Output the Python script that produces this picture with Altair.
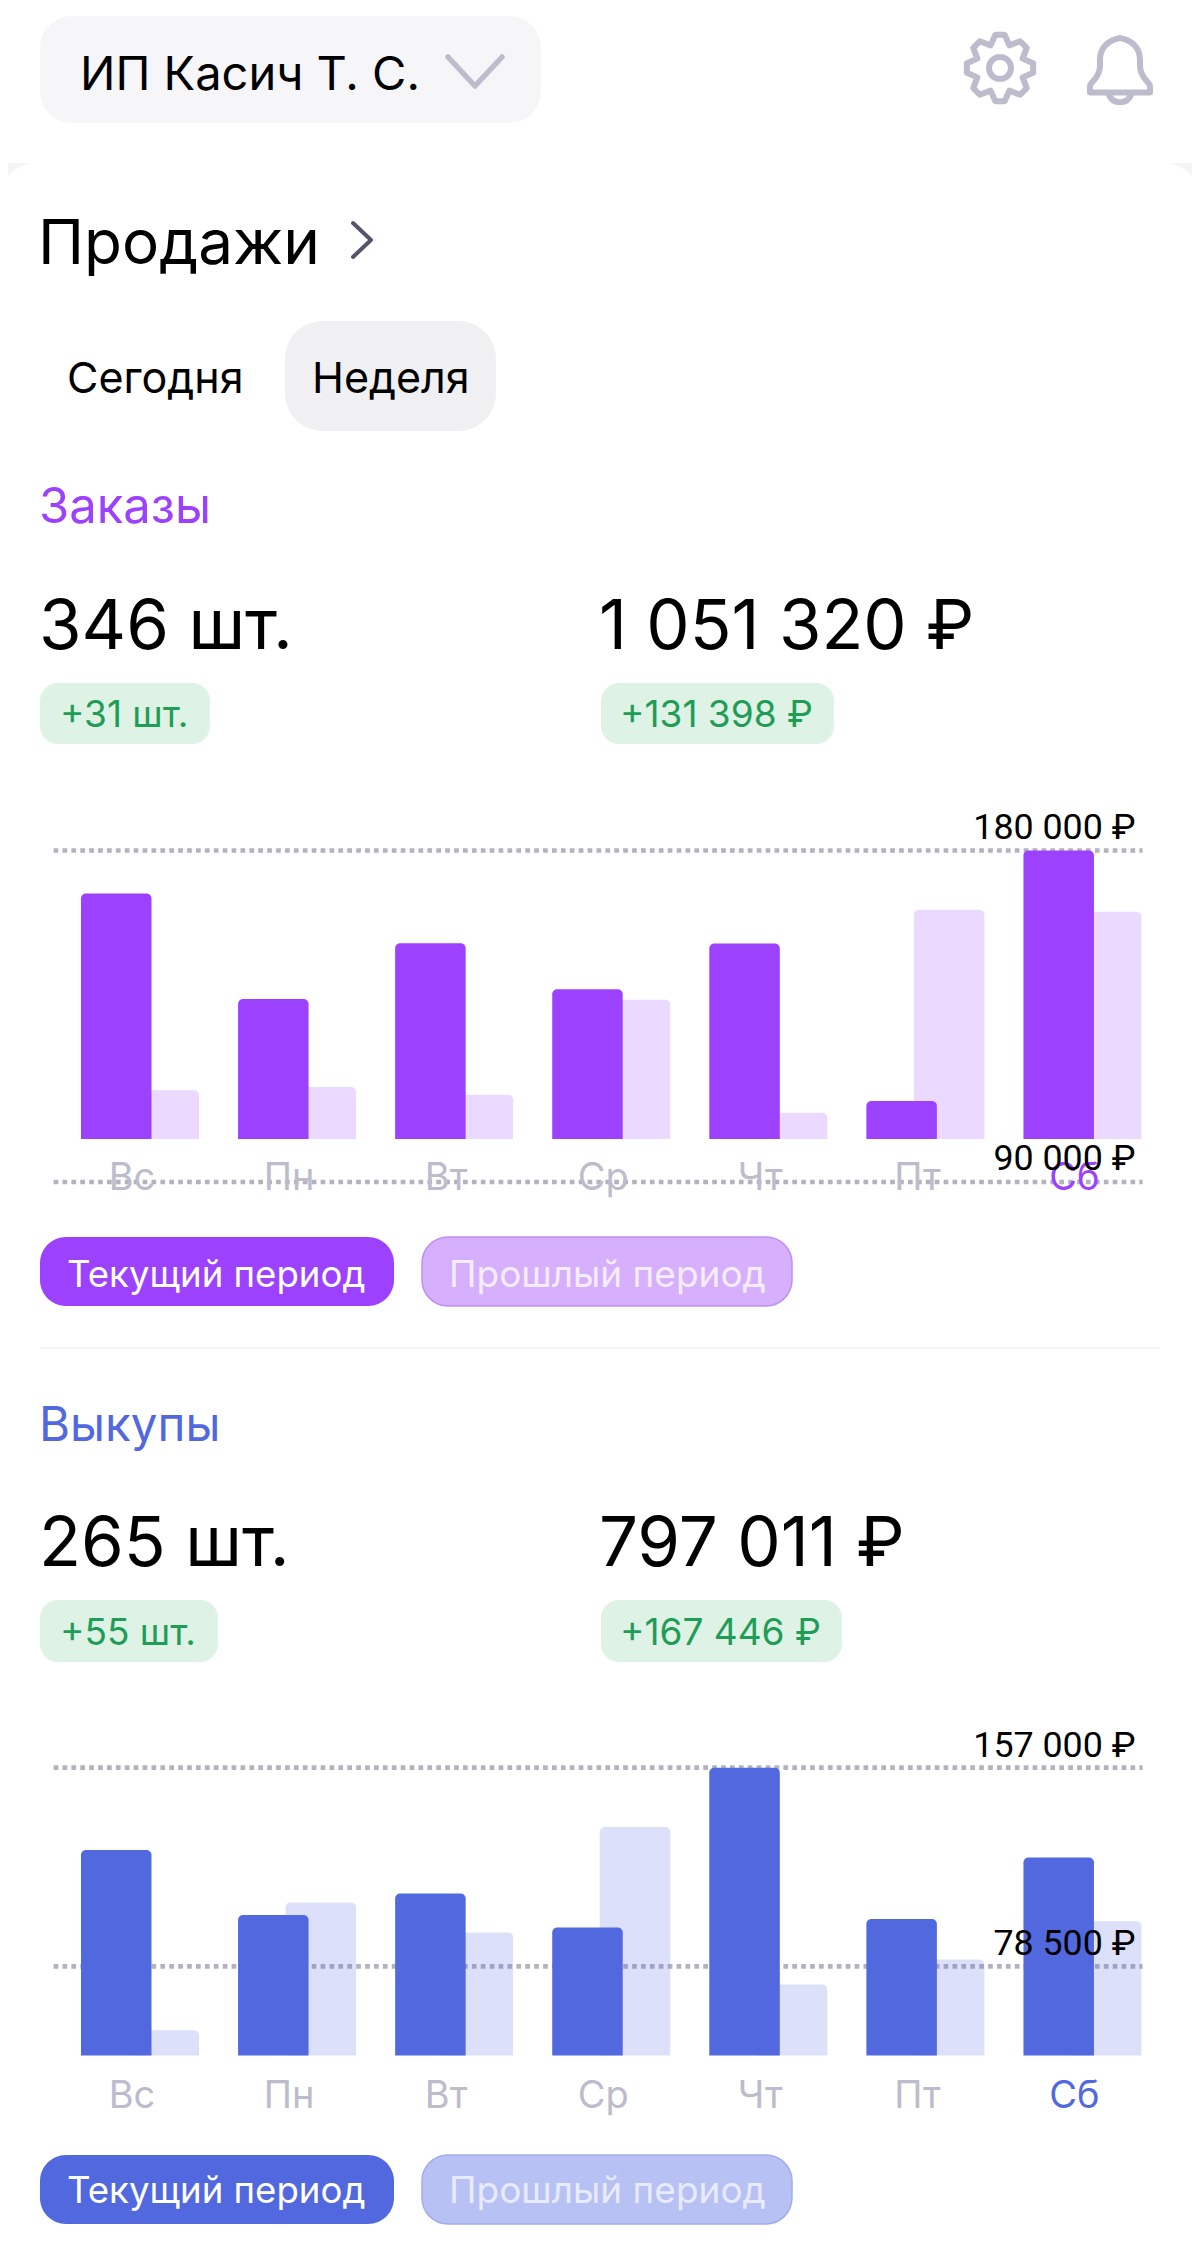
import math
import altair as alt
import pandas as pd

DAYS = ["Вс", "Пн", "Вт", "Ср", "Чт", "Пт", "Сб"]

ORDERS_NOW = [168300, 139700, 154850, 142300, 154750, 112000, 180000]
ORDERS_PREV = [114900, 115800, 113700, 139500, 108800, 163900, 163400]
ORDERS_TICKS = [180000, 90000]
ORDERS_FLOOR = 101700

BUYOUTS_NOW = [124440, 98800, 107270, 93890, 157000, 97230, 121540]
BUYOUTS_PREV = [53300, 103700, 91880, 133580, 71360, 81180, 96340]
BUYOUTS_TICKS = [157000, 78500]
BUYOUTS_FLOOR = 43265

VIOLET = "#9c42ff"
BLUE = "#5268df"
GRID = "#bdbccc"
DOTS = "#b3b2be"
GREEN = "#1f9d57"
UI = "Inter"
NUM = "Roboto"

OFF = 8  # page margin


def txt(s, x, y, size, color="#000000", font=UI, align="left", weight=400, opacity=1):
    return alt.Chart(pd.DataFrame({"a": [0]})).mark_text(
        font=font, fontSize=size, color=color, align=align, baseline="alphabetic",
        fontWeight=weight, opacity=opacity, limit=0,
    ).encode(x=alt.value(x - OFF), y=alt.value(y - OFF), text=alt.value(s))


def box(x0, x1, y0, y1, fill, r=0, stroke=None):
    kw = {"stroke": stroke, "strokeWidth": 1.5} if stroke else {}
    return alt.Chart(pd.DataFrame({"a": [0]})).mark_rect(
        color=fill, cornerRadius=r, **kw
    ).encode(
        x=alt.value(x0 - OFF), x2=alt.value(x1 - OFF),
        y=alt.value(y0 - OFF), y2=alt.value(y1 - OFF),
    )


def icon(path, x, y, color, width):
    return alt.Chart(pd.DataFrame({"a": [0]})).mark_point(
        shape=path, size=4, filled=False, stroke=color, strokeWidth=width,
        opacity=1, strokeJoin="round", strokeCap="round",
    ).encode(x=alt.value(x - OFF), y=alt.value(y - OFF))


x_scale = alt.Scale(domain=DAYS, range=[61.45 - OFF, 1161 - OFF], paddingInner=0, paddingOuter=0)


def panel(now, prev, ticks, floor, color, y_top, y_bot, labels_y, tick_ys):
    y_scale = alt.Scale(domain=[ticks[1], ticks[0]], range=[y_bot - OFF, y_top - OFF], nice=False, zero=False)
    df = pd.DataFrame({"day": DAYS, "now": now, "prev": prev, "floor": [floor] * 7})
    tk = pd.DataFrame({"v": ticks})
    X = alt.X("day:N", scale=x_scale, sort=DAYS, axis=None)
    rule = alt.Chart(tk).mark_rule(color=DOTS, strokeWidth=4.7, strokeDash=[4.7, 4.2]).encode(
        y=alt.Y("v:Q", scale=y_scale, axis=None),
        x=alt.value(53.6 - OFF), x2=alt.value(1142.6 - OFF),
    )
    bar_prev = alt.Chart(df).mark_bar(
        width=70.5, xOffset=23.75, color=color, opacity=0.2,
        cornerRadiusTopLeft=5, cornerRadiusTopRight=5,
    ).encode(x=X, y=alt.Y("prev:Q", scale=y_scale, axis=None), y2="floor:Q")
    bar_now = alt.Chart(df).mark_bar(
        width=70.5, xOffset=-23.75, color=color,
        cornerRadiusTopLeft=5, cornerRadiusTopRight=5,
    ).encode(x=X, y=alt.Y("now:Q", scale=y_scale, axis=None), y2="floor:Q")
    day_labels = alt.Chart(df).mark_text(
        font=UI, fontSize=38, baseline="alphabetic", align="center", dx=-8,
    ).encode(
        x=X, y=alt.value(labels_y - OFF), text="day:N",
        color=alt.condition(alt.datum.day == "Сб", alt.value(color), alt.value(GRID)),
    )
    out = [rule, bar_prev, bar_now, day_labels]
    for val, yy in zip(ticks, tick_ys):
        s = f"{val:,}".replace(",", " ") + " ₽"
        out.append(txt(s, 1135.5, yy, 35.8, font=NUM, align="right"))
    return out


gear_pts = []
for i in range(8):
    a = math.radians(i * 45 - 90)
    d = math.radians(8)
    gear_pts.append((33.5 * math.cos(a - d), 33.5 * math.sin(a - d)))
    gear_pts.append((33.5 * math.cos(a + d), 33.5 * math.sin(a + d)))
    b = a + math.radians(22.5)
    gear_pts.append((24.5 * math.cos(b), 24.5 * math.sin(b)))
GEAR = "M" + " L".join(f"{p:.2f},{q:.2f}" for p, q in gear_pts) + " Z"
GEAR_HOLE = "M11,0 A11,11 0 1 1 -11,0 A11,11 0 1 1 11,0 Z"
BELL = (
    "M-30,22.5 L30,22.5 L30,16 C30,12 20,8 20,-4 L20,-10 C20,-24 10,-30 0,-32 "
    "C-10,-30 -20,-24 -20,-10 L-20,-4 C-20,8 -30,12 -30,16 Z "
    "M-11,25 A12,12 0 0 0 11,25"
)

layers = [
    # header
    box(0, 36, 163, 200, "#f5f5f8"),
    box(1164, 1200, 163, 200, "#f5f5f8"),
    box(0, 1200, 163, 300, "#ffffff", r=36),
    box(40, 541, 16, 123, "#f6f6f9", r=32),
    txt("ИП Касич Т. С.", 80, 89.5, 47),
    icon("M-27,-14 L0,15 L27,-14", 475, 71, GRID, 5.5),
    icon(GEAR, 1000, 68, GRID, 6),
    icon(GEAR_HOLE, 1000, 68, GRID, 6),
    icon(BELL, 1120, 70, GRID, 6),
    txt("Продажи", 38, 263.7, 62),
    icon("M-9,-17 L9,0 L-9,17", 362, 240, "#55556a", 4),
    box(285, 496, 321, 431, "#f0f0f3", r=38),
    txt("Сегодня", 67, 393, 43),
    txt("Неделя", 312, 393, 43),
    # orders
    txt("Заказы", 39, 523, 49, VIOLET),
    txt("346 шт.", 39, 649, 69),
    txt("1 051 320 ₽", 599, 649, 68.8),
    box(40, 210, 683, 744, "#def2e6", r=18),
    txt("+31 шт.", 60, 727, 37, GREEN),
    box(601, 834, 683, 744, "#def2e6", r=18),
    txt("+131 398 ₽", 620, 727, 37, GREEN),
]
layers += panel(ORDERS_NOW, ORDERS_PREV, ORDERS_TICKS, ORDERS_FLOOR, VIOLET, 850.5, 1182, 1190, [839, 1170])
layers += [
    box(40, 394, 1237, 1306, VIOLET, r=26),
    txt("Текущий период", 67, 1287, 36.6, "#ffffff"),
    box(422, 792, 1237, 1306, "#d6b0fd", r=26, stroke="#c08ff7"),
    txt("Прошлый период", 449, 1287, 37, "#f5edff"),
    box(40, 1160, 1347, 1349, "#f4f4f6"),
    # buyouts
    txt("Выкупы", 39, 1441, 47.5, BLUE),
    txt("265 шт.", 39, 1566, 69),
    txt("797 011 ₽", 599, 1566, 69),
    box(40, 218, 1600, 1662, "#def2e6", r=18),
    txt("+55 шт.", 60, 1645, 37, GREEN),
    box(601, 842, 1600, 1662, "#def2e6", r=18),
    txt("+167 446 ₽", 620, 1645, 37, GREEN),
]
layers += panel(BUYOUTS_NOW, BUYOUTS_PREV, BUYOUTS_TICKS, BUYOUTS_FLOOR, BLUE, 1767.7, 1966.4, 2108, [1757, 1954.5])
layers += [
    box(40, 394, 2155, 2224, BLUE, r=26),
    txt("Текущий период", 67, 2203, 36.6, "#ffffff"),
    box(422, 792, 2155, 2224, "#b8c1f3", r=26, stroke="#a2ade9"),
    txt("Прошлый период", 449, 2203, 37, "#e8ebff"),
]

chart = (
    alt.layer(*layers)
    .resolve_scale(y="independent")
    .properties(width=1184, height=2240, padding=0, background="#ffffff",
                autosize=alt.AutoSizeParams(type="none"))
    .configure_view(stroke=None)
)
chart.save("out.html", embed_options={"renderer": "svg", "actions": False})
